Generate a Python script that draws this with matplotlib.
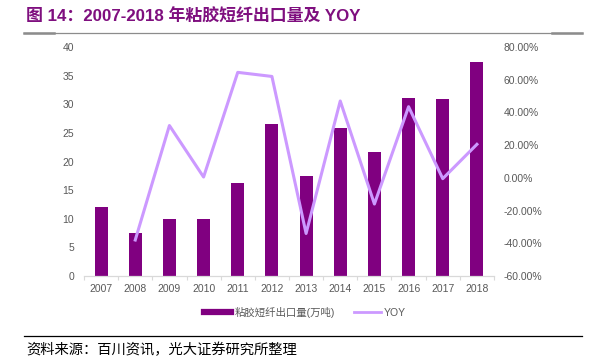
import numpy as np
import matplotlib
matplotlib.use("Agg")
import matplotlib.pyplot as plt
from matplotlib.lines import Line2D
from matplotlib.ticker import FuncFormatter, FixedLocator

plt.rcParams['font.family'] = ['Liberation Sans', 'Noto Sans CJK SC', 'DejaVu Sans']

# ---- data ----
years = ['2007', '2008', '2009', '2010', '2011', '2012',
         '2013', '2014', '2015', '2016', '2017', '2018']
export_vol = [12.0, 7.5, 9.9, 9.9, 16.3, 26.5, 17.5, 25.8, 21.6, 31.1, 30.9, 37.3]
yoy_years = years[1:]
yoy = [-0.38, 0.32, 0.005, 0.645, 0.62, -0.34, 0.47, -0.16, 0.435, -0.005, 0.205]

bar_color = '#800080'
line_color = '#CC99FF'
tick_color = '#595959'

fig = plt.figure(figsize=(5.96, 3.63), dpi=100)
W, H = 596, 363

ax = fig.add_axes([84 / W, 1 - 276 / H, 410 / W, 229 / H])
x = np.arange(len(years))
ax.bar(x, export_vol, width=0.38, color=bar_color, zorder=2)
ax.set_xlim(-0.5, len(years) - 0.5)
ax.set_ylim(0, 40)
ax.set_yticks(range(0, 41, 5))
ax.set_xticks(x)
ax.set_xticklabels(years)
ax.xaxis.set_minor_locator(FixedLocator(np.arange(-0.5, len(years), 1)))
ax.tick_params(axis='x', which='major', length=0, labelsize=7.5,
               labelcolor=tick_color, pad=6)
ax.tick_params(axis='x', which='minor', length=3, color='#D9D9D9', width=0.8)
ax.tick_params(axis='y', length=0, labelsize=7.5, labelcolor=tick_color, pad=7)
for s in ['top', 'right', 'left']:
    ax.spines[s].set_visible(False)
ax.spines['bottom'].set_color('#D9D9D9')
ax.spines['bottom'].set_linewidth(0.9)

ax2 = ax.twinx()
ax2.plot(x[1:], yoy, color=line_color, lw=2.2, zorder=3)
ax2.set_ylim(-0.6, 0.8)
ax2.set_yticks(np.arange(-0.6, 0.81, 0.2))
ax2.yaxis.set_major_formatter(FuncFormatter(lambda v, p: f"{v * 100:.2f}%"))
ax2.tick_params(axis='y', length=0, labelsize=7.5, labelcolor=tick_color, pad=7)
for s in ['top', 'right', 'left', 'bottom']:
    ax2.spines[s].set_visible(False)

# legend
handles = [Line2D([0], [0], color=bar_color, lw=4.5),
           Line2D([0], [0], color=line_color, lw=2)]
leg = fig.legend(handles, ['粘胶短纤出口量(万吨)', 'YOY'],
                 loc='center', bbox_to_anchor=(305 / W, 1 - 312 / H),
                 ncol=2, frameon=False, fontsize=7.5, handlelength=2.6,
                 handletextpad=0.3, columnspacing=1.8)
for t in leg.get_texts():
    t.set_color(tick_color)

# title and rules
fig.text(26 / W, 1 - 17 / H, '图 14：2007-2018 年粘胶短纤出口量及 YOY',
         color='#7F0F7F', fontsize=12.2, fontweight='bold', va='center', ha='left')
fig.add_artist(Line2D([24 / W, 582 / W], [1 - 33 / H] * 2, color='#8C8C8C', lw=0.9))
fig.add_artist(Line2D([24 / W, 54 / W], [1 - 33 / H] * 2, color='#8C8C8C', lw=1.8))
fig.add_artist(Line2D([552 / W, 582 / W], [1 - 33 / H] * 2, color='#8C8C8C', lw=1.8))
fig.add_artist(Line2D([24 / W, 582 / W], [1 - 336 / H] * 2, color='black', lw=0.9))
fig.text(26 / W, 1 - 350 / H, '资料来源：百川资讯，光大证券研究所整理',
         color='black', fontsize=10.3, va='center', ha='left',
         family=['Noto Sans CJK SC', 'DejaVu Sans'])

fig.savefig('out.png', dpi=100)
